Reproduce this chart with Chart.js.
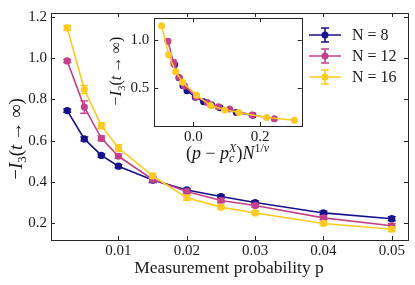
<!DOCTYPE html>
<html lang="en">
<head>
<meta charset="UTF-8">
<title>I3 vs measurement probability</title>
<script src="https://cdn.jsdelivr.net/npm/chart.js@4"></script>
<style>
  body { margin: 0; background: #fff; }
  #wrap { position: relative; width: 415px; height: 285px; }
  #main { position: absolute; left: 0; top: 0; }
  #inset { position: absolute; left: 100px; top: 0; }
</style>
</head>
<body>
<div id="wrap">
  <canvas id="main" width="415" height="285"></canvas>
  <canvas id="inset" width="215" height="165"></canvas>
</div>
<script>
// measurement probabilities
const pValues = [0.0025, 0.005, 0.0075, 0.01, 0.015, 0.02, 0.025, 0.03, 0.04, 0.05];
// -I3(t -> inf) per system size
const i3N8  = [0.746, 0.609, 0.529, 0.477, 0.410, 0.362, 0.330, 0.301, 0.251, 0.223];
const i3N12 = [0.986, 0.763, 0.612, 0.525, 0.413, 0.355, 0.311, 0.287, 0.227, 0.189];
const i3N16 = [1.146, 0.848, 0.673, 0.565, 0.430, 0.324, 0.279, 0.251, 0.200, 0.172];
// error bars (half widths)
const errN8  = [0.008, 0.010, 0.008, 0.008, 0.012, 0.008, 0.008, 0.008, 0.008, 0.010];
const errN12 = [0.008, 0.030, 0.012, 0.010, 0.012, 0.010, 0.010, 0.008, 0.008, 0.010];
const errN16 = [0.012, 0.020, 0.015, 0.016, 0.012, 0.012, 0.010, 0.008, 0.008, 0.010];
// rescaled x (p - pc) N^(1/nu)
const xN8  = [-0.056, -0.043, -0.031, -0.019, 0.006, 0.031, 0.055, 0.080, 0.129, 0.179];
const xN12 = [-0.076, -0.059, -0.042, -0.026, 0.008, 0.042, 0.075, 0.109, 0.176, 0.243];
const xN16 = [-0.095, -0.074, -0.053, -0.032, 0.010, 0.052, 0.094, 0.136, 0.220, 0.303];

const seriesLabels = ['N = 8', 'N = 12', 'N = 16'];
const colors = ['#17128b', '#c4418a', '#fcca22'];
const xTicks = [0.01, 0.02, 0.03, 0.04, 0.05];
const yTicks = [0.2, 0.4, 0.6, 0.8, 1.0, 1.2];
const insetXTicks = [0.0, 0.2];
const insetYTicks = [0.5, 1.0];

const SERIF = '"Liberation Serif", "DejaVu Serif", serif';
const R = s => s + 'px ' + SERIF;
const I = s => 'italic ' + s + 'px ' + SERIF;
const ARROW = '\u2009\u2192\u2009';

function pts(xs, ys) { return xs.map((x, i) => ({ x: x, y: ys[i] })); }

function makeSets(xsList, radius, lw) {
  const ys = [i3N8, i3N12, i3N16];
  const errs = [errN8, errN12, errN16];
  return ys.map((y, i) => ({
    label: seriesLabels[i],
    data: pts(xsList[i], y),
    errors: errs[i],
    borderColor: colors[i],
    backgroundColor: colors[i],
    pointRadius: radius,
    pointBorderWidth: 0,
    pointHoverRadius: radius,
    borderWidth: lw,
    tension: 0,
    order: 2 - i
  }));
}

// draws text pieces (sub/superscripts) centred on cx, cy
function richText(ctx, runs, cx, cy, size) {
  const widths = runs.map(r => { ctx.font = r[1]; return ctx.measureText(r[0]).width; });
  let x = 0, prev = 0;
  const starts = runs.map((r, i) => {
    const s = r[3] ? prev : x;
    prev = s;
    x = Math.max(x, s + widths[i]);
    return s;
  });
  const x0 = cx - x / 2;
  ctx.textAlign = 'left';
  ctx.textBaseline = 'alphabetic';
  runs.forEach((r, i) => {
    ctx.font = r[1];
    ctx.fillText(r[0], x0 + starts[i], cy + size * 0.35 + (r[2] || 0));
  });
}

const framePlugin = {
  id: 'frame',
  beforeDraw(chart) {
    const a = chart.chartArea, ctx = chart.ctx;
    ctx.save();
    ctx.fillStyle = '#fff';
    ctx.fillRect(a.left, a.top, a.right - a.left, a.bottom - a.top);
    ctx.restore();
  },
  afterDatasetDraw(chart, args) {
    const ds = chart.data.datasets[args.index];
    const { ctx, scales: { x, y } } = chart;
    const cap = chart.canvas.id === 'main' ? 4 : 3;
    ctx.save();
    ctx.beginPath();
    ctx.rect(chart.chartArea.left, chart.chartArea.top, chart.chartArea.width, chart.chartArea.height);
    ctx.clip();
    ctx.strokeStyle = ds.borderColor;
    ctx.lineWidth = 1.3;
    ds.data.forEach((d, i) => {
      const px = x.getPixelForValue(d.x);
      const y1 = y.getPixelForValue(d.y - ds.errors[i]);
      const y2 = y.getPixelForValue(d.y + ds.errors[i]);
      ctx.beginPath();
      ctx.moveTo(px, y1); ctx.lineTo(px, y2);
      ctx.moveTo(px - cap, y1); ctx.lineTo(px + cap, y1);
      ctx.moveTo(px - cap, y2); ctx.lineTo(px + cap, y2);
      ctx.stroke();
    });
    ctx.restore();
  },
  afterDraw(chart) {
    const { ctx, chartArea: a, scales: { x, y } } = chart;
    const L = 4;
    ctx.save();
    ctx.strokeStyle = '#262626';
    ctx.lineWidth = 1;
    ctx.strokeRect(Math.round(a.left) + 0.5, Math.round(a.top) + 0.5,
      Math.round(a.right) - Math.round(a.left), Math.round(a.bottom) - Math.round(a.top));
    ctx.beginPath();
    x.ticks.forEach(t => {
      const px = Math.round(x.getPixelForValue(t.value)) + 0.5;
      ctx.moveTo(px, a.bottom); ctx.lineTo(px, a.bottom - L);
      ctx.moveTo(px, a.top); ctx.lineTo(px, a.top + L);
    });
    y.ticks.forEach(t => {
      const py = Math.round(y.getPixelForValue(t.value)) + 0.5;
      ctx.moveTo(a.left, py); ctx.lineTo(a.left + L, py);
      ctx.moveTo(a.right, py); ctx.lineTo(a.right - L, py);
    });
    ctx.stroke();
    ctx.restore();
  }
};

const mainLabels = {
  id: 'mainLabels',
  afterDraw(chart) {
    const ctx = chart.ctx;
    ctx.save();
    ctx.fillStyle = '#1a1a1a';
    ctx.font = R(17.5);
    ctx.textAlign = 'center';
    ctx.textBaseline = 'middle';
    ctx.fillText('Measurement probability p', 229, 268);
    ctx.translate(15, 139);
    ctx.rotate(-Math.PI / 2);
    richText(ctx, [['−', R(19)], ['I', I(19)], ['3', R(13), 4], ['(', R(19)], ['t', I(19)],
      [ARROW, R(19)], ['∞', R(19)], [')', R(19)]], 0, 0, 19);
    ctx.restore();

    // legend
    const rows = [35, 56, 77];
    chart.data.datasets.forEach((ds, i) => {
      const yy = rows[i];
      ctx.save();
      ctx.strokeStyle = ds.borderColor;
      ctx.fillStyle = ds.borderColor;
      ctx.lineWidth = 1.6;
      ctx.beginPath();
      ctx.moveTo(309, yy); ctx.lineTo(341, yy);
      ctx.moveTo(325, yy - 7); ctx.lineTo(325, yy + 7);
      ctx.moveTo(321, yy - 7); ctx.lineTo(329, yy - 7);
      ctx.moveTo(321, yy + 7); ctx.lineTo(329, yy + 7);
      ctx.stroke();
      ctx.beginPath();
      ctx.arc(325, yy, 3.5, 0, Math.PI * 2);
      ctx.fill();
      ctx.fillStyle = '#1a1a1a';
      ctx.font = R(16);
      ctx.textAlign = 'left';
      ctx.textBaseline = 'middle';
      ctx.fillText(ds.label, 352, yy + 1);
      ctx.restore();
    });
  }
};

const insetLabels = {
  id: 'insetLabels',
  afterDraw(chart) {
    const ctx = chart.ctx;
    ctx.save();
    ctx.fillStyle = '#1a1a1a';
    richText(ctx, [['(', R(18)], ['p', I(18)], [' − ', R(18)], ['p', I(18)], ['c', I(12), 3],
      ['X', I(12), -7, true], [')', R(18)], ['N', I(18)], ['1/', R(12), -7], ['ν', I(12), -7]],
      127.5, 153, 18);
    ctx.translate(15, 71);
    ctx.rotate(-Math.PI / 2);
    richText(ctx, [['−', R(16)], ['I', I(16)], ['3', R(11), 4], ['(', R(16)], ['t', I(16)],
      [ARROW, R(16)], ['∞', R(16)], [')', R(16)]], 0, 0, 16);
    ctx.restore();
  }
};

function axisOpts(min, max, ticks, digits, size, pad, fit) {
  return {
    type: 'linear',
    min: min,
    max: max,
    grid: { display: false, drawTicks: false },
    border: { display: false },
    afterBuildTicks: s => { s.ticks = ticks.map(v => ({ value: v })); },
    afterFit: fit,
    ticks: {
      autoSkip: false,
      maxRotation: 0,
      padding: pad,
      color: '#1a1a1a',
      font: { family: SERIF, size: size },
      callback: v => Number(v).toFixed(digits)
    }
  };
}

Chart.defaults.animation = false;
Chart.defaults.devicePixelRatio = 1;

new Chart(document.getElementById('main'), {
  type: 'line',
  data: { datasets: makeSets([pValues, pValues, pValues], 3.6, 1.6) },
  options: {
    responsive: false,
    layout: { padding: { top: 9.5, right: 7, left: 0, bottom: 0 } },
    plugins: { legend: { display: false }, tooltip: { enabled: false } },
    scales: {
      x: axisOpts(0.000125, 0.052375, xTicks, 2, 15, 2, s => { s.height = 45; }),
      y: axisOpts(0.12, 1.218, yTicks, 1, 15, 4, s => { s.width = 51; })
    }
  },
  plugins: [framePlugin, mainLabels]
});

new Chart(document.getElementById('inset'), {
  type: 'line',
  data: { datasets: makeSets([xN8, xN12, xN16], 3.5, 1.5) },
  options: {
    responsive: false,
    layout: { padding: { top: 18.3, right: 13.3, left: 0, bottom: 0 } },
    plugins: { legend: { display: false }, tooltip: { enabled: false } },
    scales: {
      x: axisOpts(-0.117, 0.325, insetXTicks, 1, 15, 2, s => { s.height = 39; }),
      y: axisOpts(0.113, 1.223, insetYTicks, 1, 15, 5, s => { s.width = 54.3; })
    }
  },
  plugins: [framePlugin, insetLabels]
});
</script>
</body>
</html>
